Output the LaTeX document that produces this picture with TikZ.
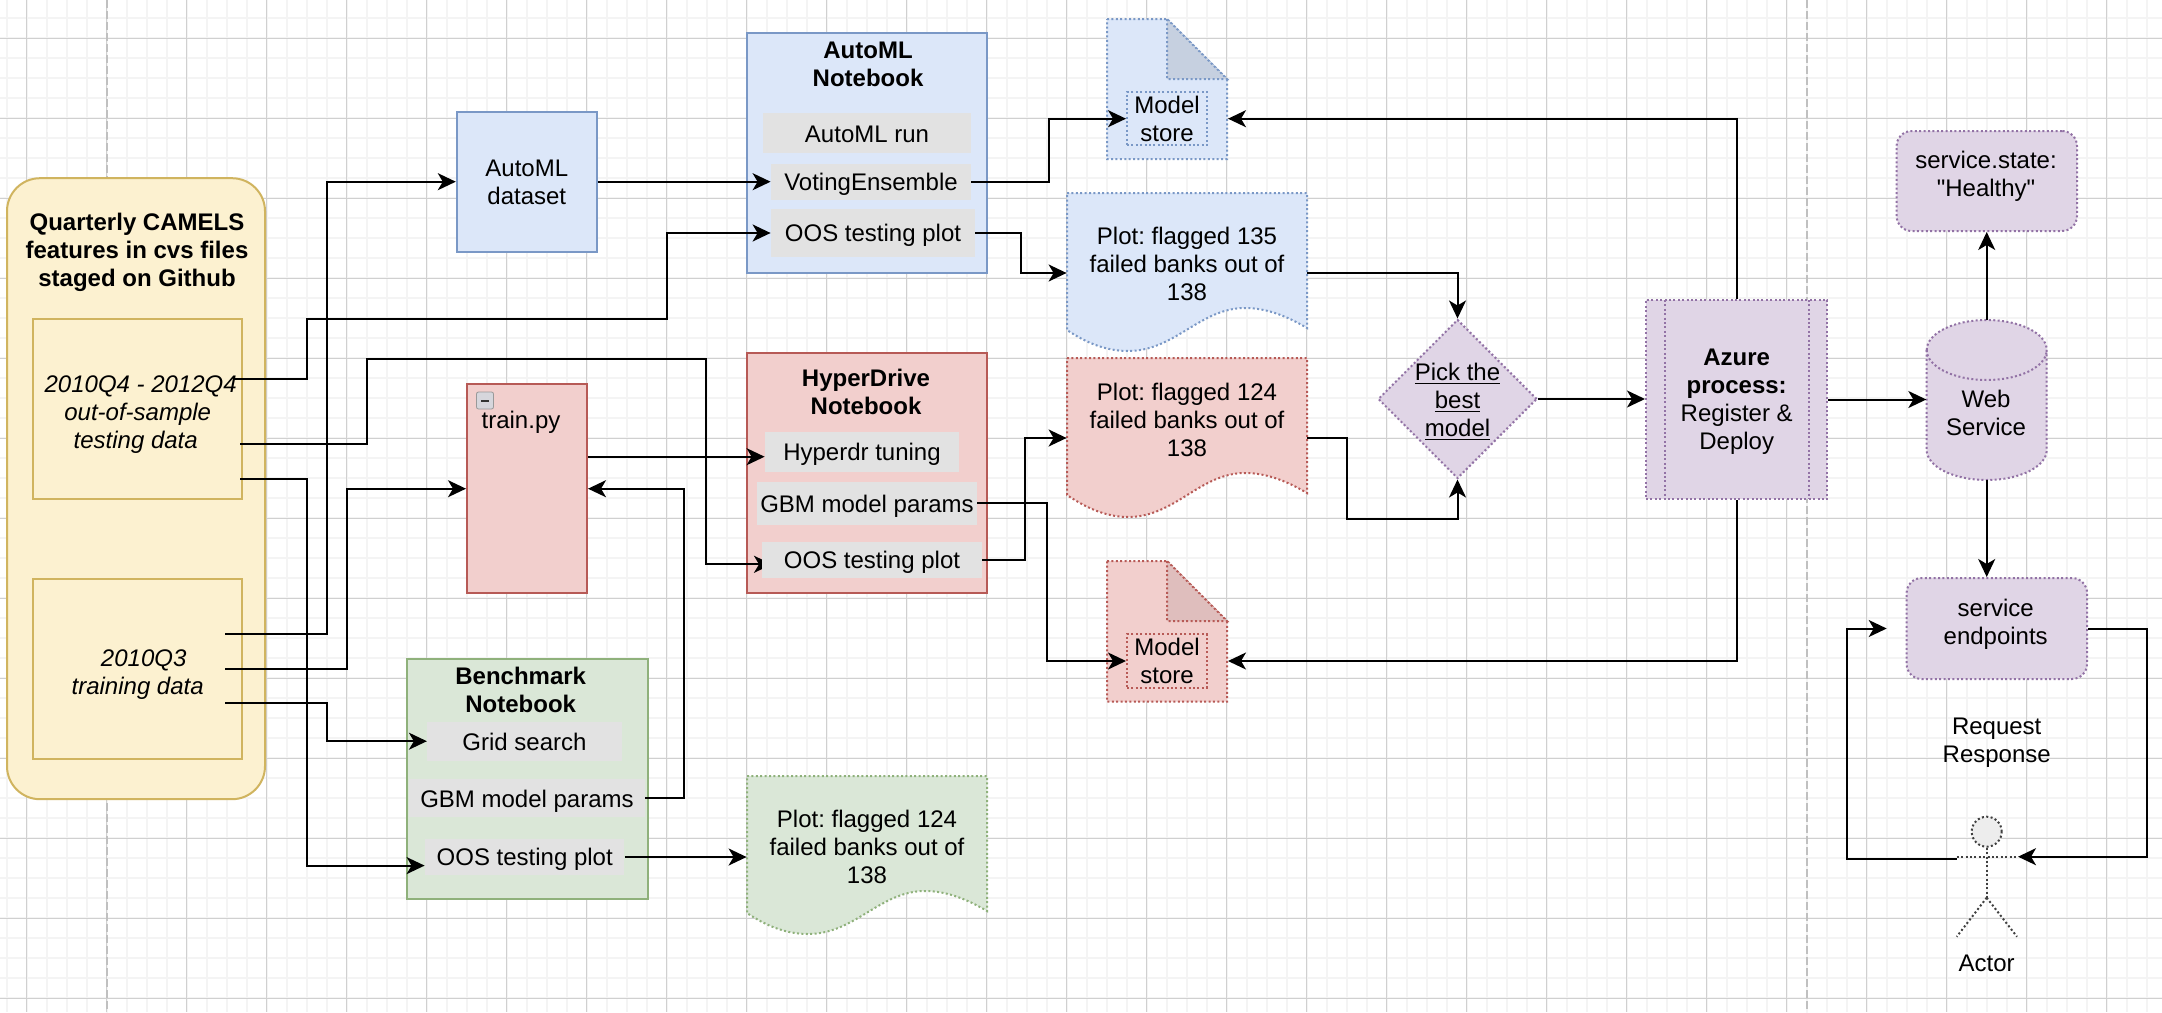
\documentclass[tikz,border=0pt]{standalone}
\usepackage{fontspec}
\setmainfont{Liberation Sans}[Ligatures=TeXOff]
\usetikzlibrary{arrows.meta, shapes.geometric}
\definecolor{gridminor}{RGB}{244,244,244}
\definecolor{gridmajor}{RGB}{208,208,208}
\definecolor{guidegray}{RGB}{192,192,192}
\definecolor{yellowfill}{RGB}{252,241,208}
\definecolor{yellowline}{RGB}{208,180,95}
\definecolor{bluefill}{RGB}{220,231,249}
\definecolor{blueline}{RGB}{122,152,198}
\definecolor{redfill}{RGB}{242,207,205}
\definecolor{redline}{RGB}{183,90,86}
\definecolor{greenfill}{RGB}{218,231,215}
\definecolor{greenline}{RGB}{143,177,123}
\definecolor{purplefill}{RGB}{224,213,230}
\definecolor{purpleline}{RGB}{146,114,165}
\definecolor{graybg}{RGB}{226,226,226}
\newcommand{\lineone}{\rule{0pt}{10.6pt}}
\tikzset{
  lbl/.style={font=\fontsize{12}{14}\selectfont\frenchspacing, align=center, inner sep=0pt,
    execute at begin node={\rule{0pt}{11.4pt}}, execute at end node={\rule[-2pt]{0pt}{2pt}}},
  solidbox/.style={lbl, draw, line width=1pt},
  dotline/.style={line width=1pt, dash pattern=on 1pt off 1.2pt},
  dotbox/.style={lbl, draw, dotline},
  graybox/.style={lbl, fill=graybg},
  link/.style={line width=1pt, -{Stealth[length=9pt,width=8.5pt,inset=2.5pt]}},
}

\begin{document}
\begin{tikzpicture}[x=0.5pt, y=-0.5pt]
  \useasboundingbox (0,0) rectangle (2162,1012);
  \fill[white] (0,0) rectangle (2162,1012);

  % grid
  \foreach \gx in {6.7,26.7,...,2162} \draw[gridminor, line width=1pt] (\gx,0) -- (\gx,1012);
  \foreach \gy in {18.3,38.3,...,1012} \draw[gridminor, line width=1pt] (0,\gy) -- (2162,\gy);
  \foreach \gx in {26.7,106.7,...,2162} \draw[gridmajor, line width=0.6pt] (\gx,0) -- (\gx,1012);
  \foreach \gy in {38.3,118.3,...,1012} \draw[gridmajor, line width=0.6pt] (0,\gy) -- (2162,\gy);
  \draw[guidegray, line width=1pt, dash pattern=on 4pt off 1.5pt] (107,0) -- (107,1012);
  \draw[guidegray, line width=1pt, dash pattern=on 4pt off 1.5pt] (1807,0) -- (1807,1012);

  % data files
  \node[solidbox, yellowline, fill=yellowfill, rounded corners=16.5pt, minimum width=129pt, minimum height=310.5pt] (camels) at (136,488.7) {};
  \node[lbl] (camelstxt) at (137,250) {\lineone\bfseries Quarterly CAMELS\\\bfseries features in cvs files\\\bfseries staged on Github};
  \node[solidbox, yellowline, fill=yellowfill, text=black, minimum width=104.5pt, minimum height=90pt] (testdata) at (137.7,409) {\rule{0pt}{14pt}\hspace*{3pt}\itshape 2010Q4 - 2012Q4\\\itshape out-of-sample\\\itshape testing data\hspace*{2pt}};
  \node[solidbox, yellowline, fill=yellowfill, text=black, minimum width=104.5pt, minimum height=90pt] (traindata) at (137.7,669) {\rule{0pt}{14pt}\hspace*{6pt}\itshape 2010Q3\\\itshape training data};

  % automl
  \node[solidbox, blueline, fill=bluefill, text=black, minimum width=70pt, minimum height=70pt] (dataset) at (526.8,181.7) {\lineone AutoML\\dataset};
  \node[solidbox, blueline, fill=bluefill, minimum width=120pt, minimum height=120pt] (automlbox) at (867,153) {};
  \node[lbl] (automltitle) at (868,64) {\lineone\bfseries AutoML\\\bfseries Notebook};
  \node[graybox, minimum width=104pt, minimum height=20pt] (automlrun) at (867,133) {AutoML run};
  \node[graybox, minimum width=100pt, minimum height=18pt] (voting) at (871,181.7) {VotingEnsemble};
  \node[graybox, minimum width=102pt, minimum height=24pt] (oosauto) at (873,233) {OOS testing plot};

  \draw[blueline, dotline, fill=bluefill] (1107,19) -- (1167,19) -- (1227,79) -- (1227,159) -- (1107,159) -- cycle;
  \draw[blueline, dotline, fill=bluefill!90!black] (1167,19) -- (1167,79) -- (1227,79) -- cycle;
  \node[dotbox, blueline, text=black, minimum width=40pt, minimum height=20.5pt] (storeblue) at (1167,118.7) {\lineone Model\\store};

  \draw[blueline, dotline, fill=bluefill] (1067,193) -- (1307,193) -- (1307,328) .. controls (1285,315) and (1265,308) .. (1245,308) .. controls (1200,308) and (1175,351) .. (1128,351) .. controls (1105,351) and (1085,342) .. (1067,330) -- cycle;
  \node[lbl, minimum width=120pt] (plotblue) at (1187,264) {\lineone Plot: flagged 135\\failed banks out of\\138};

  % hyperdrive
  \node[solidbox, redline, fill=redfill, minimum width=60pt, minimum height=104.5pt] (trainbox) at (527,488.7) {};
  \node[lbl] (traintxt) at (521,420) {train.py};
  \node[draw=black!40, fill=blue!8!gray!30, rounded corners=1pt, minimum width=8.5pt, minimum height=8.5pt, inner sep=0pt] (trainicon) at (485,400.5) {};
  \draw[black!80, line width=1pt] (trainicon.center) ++(-4,0) -- ++(8,0);
  \node[solidbox, redline, fill=redfill, minimum width=120pt, minimum height=120pt] (hyperbox) at (867,473) {};
  \node[lbl] (hypertitle) at (866,392) {\lineone\bfseries HyperDrive\\\bfseries Notebook};
  \coordinate (fromtest) at (240,444);
  \coordinate (oosgap) at (772,564.3);
  \draw[link] (fromtest) -- (367,444) -- (367,359) -- (706,359) -- (706,564.3) -- (oosgap);
  \node[graybox, minimum width=97pt, minimum height=20pt] (hypertune) at (862,451.7) {Hyperdr tuning};
  \node[graybox, minimum width=109.7pt, minimum height=21.7pt] (gbmhyper) at (867,503.3) {GBM model params};
  \node[graybox, minimum width=109.7pt, minimum height=18pt] (ooshyper) at (872,559.5) {OOS testing plot};

  \draw[redline, dotline, fill=redfill] (1067,358) -- (1307,358) -- (1307,493) .. controls (1285,480) and (1265,473) .. (1245,473) .. controls (1200,473) and (1175,517) .. (1128,517) .. controls (1105,517) and (1085,507) .. (1067,495) -- cycle;
  \node[lbl, minimum width=120pt] (plotred) at (1187,420) {\lineone Plot: flagged 124\\failed banks out of\\138};

  \draw[redline, dotline, fill=redfill] (1107,561) -- (1167,561) -- (1227,621) -- (1227,701.7) -- (1107,701.7) -- cycle;
  \draw[redline, dotline, fill=redfill!92!black] (1167,561) -- (1167,621) -- (1227,621) -- cycle;
  \node[dotbox, redline, text=black, minimum width=40pt, minimum height=20.5pt] (storered) at (1167,661) {\lineone Model\\store};

  % benchmark
  \node[solidbox, greenline, fill=greenfill, minimum width=120.5pt, minimum height=120pt] (benchbox) at (527.2,779) {};
  \node[lbl] (benchtitle) at (520.7,689.5) {\lineone\bfseries Benchmark\\\bfseries Notebook};
  \node[graybox, minimum width=97.2pt, minimum height=19.5pt] (gridsearch) at (524.5,741.2) {Grid search};
  \node[graybox, minimum width=118pt, minimum height=19pt] (gbmbench) at (527,798.3) {GBM model params};
  \node[graybox, minimum width=99.7pt, minimum height=17.8pt] (oosbench) at (524.7,857) {OOS testing plot};

  \draw[greenline, dotline, fill=greenfill] (747,776) -- (987,776) -- (987,911) .. controls (965,898) and (945,891) .. (925,891) .. controls (880,891) and (855,934) .. (808,934) .. controls (785,934) and (765,925) .. (747,913) -- cycle;
  \node[lbl, minimum width=120pt] (plotgreen) at (867,847) {\lineone Plot: flagged 124\\failed banks out of\\138};

  % azure and service
  \node[diamond, draw, purpleline, dotline, fill=purplefill, aspect=1, minimum size=79.5pt, inner sep=0pt] (pickbest) at (1457.5,399) {};
  \node[lbl] (picktxt) at (1457.5,400) {\lineone\underline{Pick the}\\\underline{best}\\\underline{model}};
  \node[dotbox, purpleline, fill=purplefill, text=black, minimum width=90.7pt, minimum height=99.5pt] (azure) at (1736.7,399.5) {\lineone\bfseries Azure\\\bfseries process:\\Register \&\\Deploy};
  \draw[purpleline, dotline] (1665,300) -- (1665,499);
  \draw[purpleline, dotline] (1809,300) -- (1809,499);

  \draw[purpleline, dotline, fill=purplefill] (1926.7,350) arc[start angle=180, end angle=0, x radius=60, y radius=-30] -- (2046.7,450) arc[start angle=0, end angle=-180, x radius=60, y radius=-30] -- cycle;
  \draw[purpleline, dotline] (1926.7,350) arc[start angle=180, end angle=360, x radius=60, y radius=-30];
  \node[lbl, minimum width=60pt, minimum height=80pt] (webservice) at (1986.7,400) {};
  \node[lbl] (webtxt) at (1986,413) {\lineone Web\\Service};

  \node[dotbox, purpleline, fill=purplefill, rounded corners=7.5pt, minimum width=90.2pt, minimum height=50pt] (healthy) at (1986.8,181) {};
  \node[lbl] (healthytxt) at (1986,174.5) {\lineone service.state:\\"Healthy"};
  \node[dotbox, purpleline, fill=purplefill, rounded corners=7.5pt, minimum width=90.2pt, minimum height=50.5pt] (endpoints) at (1996.8,628.5) {};
  \node[lbl] (endpointstxt) at (1995.7,622) {\lineone service\\endpoints};
  \node[lbl] (reqresp) at (1996.7,740) {\lineone Request\\Response};

  \node[circle, draw=black!75, dotline, fill=black!7, minimum size=15pt, inner sep=0pt] (actorhead) at (1986.7,831.7) {};
  \coordinate (actorhip) at (1986.7,897.7);
  \draw[black!75, dotline] (actorhead.south) -- (actorhip);
  \draw[black!75, dotline] (1956.7,856.7) -- (2017,856.7);
  \draw[black!75, dotline] (actorhip) -- (1956.7,936.7);
  \draw[black!75, dotline] (actorhip) -- (2017,936.7);
  \node[lbl] (actortxt) at (1986.7,962) {Actor};

  % connectors
  \coordinate (trainout) at (225,634.3);
  \coordinate (trainmid) at (225,669);
  \coordinate (trainlow) at (225,703);
  \coordinate (testtop) at (234,379);
  \coordinate (testlow) at (240,479);
  \coordinate (actorleft) at (1956.7,859);
  \coordinate (actorright) at (2018,856.7);
  \coordinate (endpointsgap) at (1886.7,628.5);
  \draw[link] (trainout) -- (327,634.3) -- (327,181.7) -- (dataset.west);
  \draw[link] (testtop) -- (307,379) -- (307,319) -- (667,319) -- (667,233) -- (oosauto.west);
  \draw[link] (testlow) -- (307,479) -- (307,865.6) -- ([yshift=-4.3pt]oosbench.west);
  \draw[link] (trainmid) -- (347,669) -- (347,488.7) -- (trainbox.west);
  \draw[link] (trainlow) -- (327,703) -- (327,741.2) -- (gridsearch.west);
  \draw[link] (gbmbench.east) -- (684.3,798.3) -- (684.3,488.7) -- (trainbox.east);
  \draw[link] ([yshift=-2.5pt]trainbox.east |- hypertune.west) -- ([yshift=-2.5pt]hypertune.west);
  \draw[link] (dataset.east) -- (voting.west);
  \draw[link] (voting.east) -- (1048.6,181.7) -- (1048.6,118.7) -- (storeblue.west);
  \draw[link] (oosauto.east) -- (1021,233) -- (1021,273) -- ([yshift=-4.5pt]plotblue.west);
  \draw[link] ([yshift=-4.5pt]plotblue.east) -- (1457.5,273) -- (pickbest.north);
  \draw[link] ([yshift=-9pt]plotred.east) -- (1347,438) -- (1347,519) -- (1457.5,519) -- (pickbest.south);
  \draw[link] (pickbest.east) -- (pickbest.east -| azure.west);
  \draw[link] (azure.north) -- (azure.north |- storeblue) -- ([xshift=10pt]storeblue.east);
  \draw[link] (azure.south) -- (azure.south |- storered) -- ([xshift=10pt]storered.east);
  \draw[link] (gbmhyper.east) -- (1047,503.3) -- (1047,661) -- (storered.west);
  \draw[link] (ooshyper.east) -- (1025,559.5) -- (1025,438) -- ([yshift=-9pt]plotred.west);
  \draw[link] (oosbench.east) -- ([yshift=-5pt]plotgreen.west);
  \draw[link] (azure.east) -- (azure.east -| webservice.west);
  \draw[link] (webservice.north) -- (webservice.north |- healthy.south);
  \draw[link] (webservice.south) -- (webservice.south |- endpoints.north);
  \draw[link] (endpoints.east) -- (2147,628.5) -- (2147,856.7) -- (actorright);
  \draw[link] (actorleft) -- (1846.7,859) -- (1846.7,628.5) -- (endpointsgap);
\end{tikzpicture}
\end{document}
